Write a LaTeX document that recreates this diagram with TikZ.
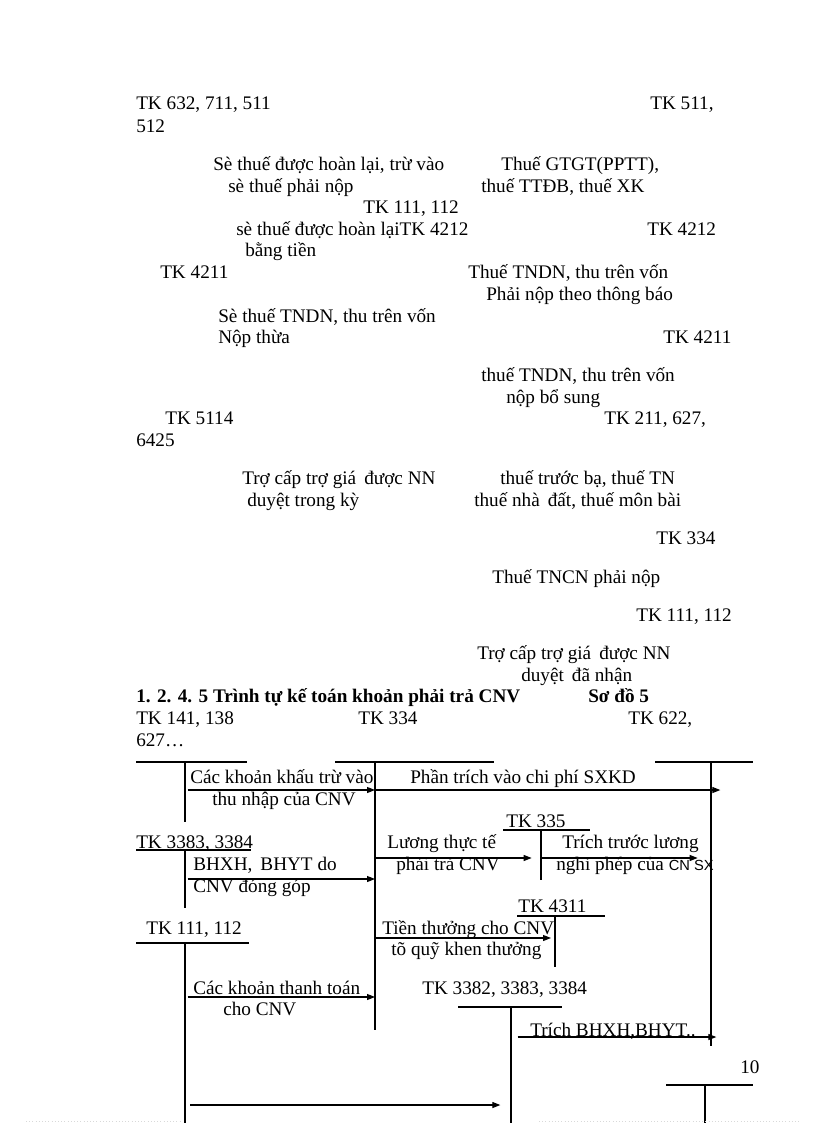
\documentclass[tikz,border=0pt]{standalone}
\usepackage{fontspec}
\setmainfont{Liberation Serif}
\newfontfamily\sansf{Liberation Sans}
\usetikzlibrary{positioning,arrows.meta}

\begin{document}
\begin{tikzpicture}[x=0.75pt,y=-0.75pt]
    \tikzstyle{lbl}=[anchor=base west,inner sep=0pt,font=\fontsize{14.4}{17}\selectfont]
    \tikzstyle{head}=[lbl,font=\fontsize{14.4}{17}\selectfont\bfseries]
    \tikzstyle{acc}=[line width=0.8pt]
    \tikzstyle{edge}=[line width=0.8pt,-{Triangle[length=6pt,width=4.5pt]}]

    \useasboundingbox (0,0) rectangle (816,1123);

    % upper part: text only
    \node[lbl] (tk632) at (136,110) {TK 632, 711, 511};
    \node[lbl] (tk511) at (650,110) {TK 511,};
    \node[lbl] (tk512) at (136,133) {512};
    \node[lbl] (hl1) at (213,171) {Sè thuế được hoàn lại, trừ vào};
    \node[lbl] (hl2) at (228,193) {sè thuế phải nộp};
    \node[lbl] (gt1) at (501,171) {Thuế GTGT(PPTT),};
    \node[lbl] (gt2) at (481,193) {thuế TTĐB, thuế XK};
    \node[lbl] (tk111a) at (363,214) {TK 111, 112};
    \node[lbl] (ht1) at (236,236) {sè thuế được hoàn lạiTK 4212};
    \node[lbl] (tk4212) at (647,236) {TK 4212};
    \node[lbl] (ht2) at (245,257) {bằng tiền};
    \node[lbl] (tk4211a) at (160,278) {TK 4211};
    \node[lbl] (tn1) at (468,278) {Thuế TNDN, thu trên vốn};
    \node[lbl] (tn2) at (486,300) {Phải nộp theo thông báo};
    \node[lbl] (nt1) at (218,322) {Sè thuế TNDN, thu trên vốn};
    \node[lbl] (nt2) at (218,343) {Nộp thừa};
    \node[lbl] (tk4211b) at (663,343) {TK 4211};
    \node[lbl] (bs1) at (481,381) {thuế TNDN, thu trên vốn};
    \node[lbl] (bs2) at (506,403) {nộp bổ sung};
    \node[lbl] (tk5114) at (165,424) {TK 5114};
    \node[lbl] (tk211) at (604,424) {TK 211, 627,};
    \node[lbl] (tk6425) at (136,446) {6425};
    \node[lbl] (tc1) at (242,484) {Trợ cấp trợ giá\, được NN};
    \node[lbl] (tc2) at (247,506) {duyệt trong kỳ};
    \node[lbl] (tb1) at (500,484) {thuế trước bạ, thuế TN};
    \node[lbl] (tb2) at (474,506) {thuế nhà\, đất, thuế môn bài};
    \node[lbl] (tk334a) at (656,544) {TK 334};
    \node[lbl] (cn1) at (492,583) {Thuế TNCN phải nộp};
    \node[lbl] (tk111b) at (636,621) {TK 111, 112};
    \node[lbl] (dn1) at (477,659) {Trợ cấp trợ giá\, được NN};
    \node[lbl] (dn2) at (521,681) {duyệt\, đã nhận};

    % heading of Sơ đồ 5
    \node[head] (title) at (136,702) {1. 2. 4. 5 Trình tự kế toán khoản phải trả CNV};
    \node[head] (sodo) at (588,702) {Sơ đồ 5};
    \node[lbl] (tk141) at (136,724) {TK 141, 138};
    \node[lbl] (tk334) at (358,724) {TK 334};
    \node[lbl] (tk622) at (628,724) {TK 622,};
    \node[lbl] (tk627) at (136,746) {627…};

    % account axes
    \coordinate (k141) at (185,762);  \coordinate (k141e) at (185,822);
    \coordinate (k334) at (375,762);  \coordinate (k334e) at (375,1030);
    \coordinate (k622) at (711,762);  \coordinate (k622e) at (711,1046);
    \coordinate (k335) at (541,830);  \coordinate (k335e) at (541,880);
    \coordinate (k3383) at (185,850); \coordinate (k3383e) at (185,908);
    \coordinate (k4311) at (555,916); \coordinate (k4311e) at (555,967);
    \coordinate (k111) at (185,943);  \coordinate (k111e) at (185,1123);
    \coordinate (k3382) at (511,1007); \coordinate (k3382e) at (511,1123);
    \coordinate (k10) at (705,1085);  \coordinate (k10e) at (705,1123);

    \draw[acc] (136,762) -- (247,762) (k141) -- (k141e);
    \draw[acc] (335,762) -- (494,762) (k334) -- (k334e);
    \draw[acc] (655,762) -- (753,762) (k622) -- (k622e);
    \draw[acc] (503,830) -- (590,830) (k335) -- (k335e);
    \draw[acc] (136,850) -- (251,850) (k3383) -- (k3383e);
    \draw[acc] (517,916) -- (605,916) (k4311) -- (k4311e);
    \draw[acc] (136,943) -- (249,943) (k111) -- (k111e);
    \draw[acc] (458,1007) -- (562,1007) (k3382) -- (k3382e);
    \draw[acc] (666,1085) -- (753,1085) (k10) -- (k10e);

    % account names
    \node[lbl] (tk335) at (506,827) {TK 335};
    \node[lbl] (tk3383) at (136,848) {TK 3383, 3384};
    \node[lbl] (tk4311) at (518,912) {TK 4311};
    \node[lbl] (tk111) at (146,934) {TK 111, 112};
    \node[lbl] (tk3382) at (422,994) {TK 3382, 3383, 3384};
    \node[lbl] (pg) at (740,1073) {10};

    % entries
    \draw[edge] ([xshift=2pt]k141 |- 0,790) -- (k334 |- 0,790);
    \draw[edge] (k334 |- 0,790) -- ([xshift=7pt]k622 |- 0,790);
    \draw[edge] ([xshift=2pt]k3383 |- 0,879) -- (k334 |- 0,879);
    \draw[edge] (k334 |- 0,858) -- ([xshift=-7pt]k335 |- 0,858);
    \draw[edge] (k335 |- 0,858) -- ([xshift=-10pt]k622 |- 0,858);
    \draw[edge] (k334 |- 0,938) -- ([xshift=-3pt]k4311 |- 0,938);
    \draw[edge] ([xshift=2pt]k111 |- 0,997) -- (k334 |- 0,997);
    \draw[edge] ([xshift=5pt]k3382 |- 0,1037) -- ([xshift=4pt]k622 |- 0,1037);
    \draw[edge] ([xshift=4pt]k111 |- 0,1105) -- ([xshift=-8pt]k3382 |- 0,1105);

    \node[lbl] (kt1) at (190,783) {Các khoản khấu trừ vào};
    \node[lbl] (kt2) at (212,805) {thu nhập của CNV};
    \node[lbl] (pt1) at (410,783) {Phần trích vào chi phí SXKD};
    \node[lbl] (lg1) at (387,848) {Lương thực tế};
    \node[lbl] (lg2) at (396,870) {phải trả CNV};
    \node[lbl] (tt1) at (562,848) {Trích trước lương};
    \node[lbl] (tt2) at (556,870) {nghỉ phép của {\sansf\fontsize{11}{13}\selectfont CN SX}};
    \node[lbl] (bh1) at (193,870) {BHXH,\, BHYT do};
    \node[lbl] (bh2) at (193,892) {CNV đóng góp};
    \node[lbl] (th1) at (382,934) {Tiền thưởng cho CNV};
    \node[lbl] (th2) at (391,955) {tõ quỹ khen thưởng};
    \node[lbl] (ct1) at (193,994) {Các khoản thanh toán};
    \node[lbl] (ct2) at (223,1015) {cho CNV};
    \node[lbl] (tb) at (530,1036) {Trích BHXH,BHYT..};

    % faint page edge
    \draw[gray!30,dotted] (26,1121) -- (181,1121) (539,1121) -- (800,1121);
\end{tikzpicture}
\end{document}
